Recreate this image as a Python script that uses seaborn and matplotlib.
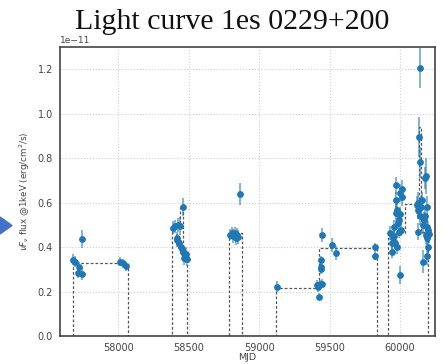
import numpy as np
import pandas as pd
import matplotlib
matplotlib.use("Agg")
import matplotlib.pyplot as plt
from matplotlib.patches import Polygon
import seaborn as sns

# ---------------- data (flux in units of 1e-11 erg/cm2/s) ----------------
mjd = [57681, 57693, 57721, 57716, 57740, 57744, 58012, 58031, 58052,
       58390, 58403, 58426, 58440, 58457, 58414, 58420, 58433, 58443, 58450,
       58457, 58466, 58474, 58480, 58485,
       58793, 58805, 58815, 58825, 58835, 58845, 58850, 58866,
       59127, 59408, 59415, 59420, 59425, 59432, 59444, 59437, 59439, 59440,
       59444, 59515, 59543, 59822, 59825,
       59929, 59950, 59940, 59965, 59979, 59960, 59986, 59972, 59969, 59972,
       60000, 60012, 60012, 60007, 60000, 59993, 60000, 59976, 59955, 59945,
       59990, 60118, 60130, 60142, 60130, 60154, 60165, 60177, 60160, 60189,
       60201, 60194, 60201, 60194, 60184, 60205, 60138, 60135, 60142, 60185,
       60178, 60125, 60150, 60170, 60190]
flux = [0.343, 0.335, 0.310, 0.283, 0.279, 0.436, 0.335, 0.328, 0.313,
        0.487, 0.493, 0.500, 0.495, 0.580, 0.440, 0.430, 0.420, 0.400, 0.390,
        0.380, 0.350, 0.360, 0.370, 0.345,
        0.455, 0.465, 0.450, 0.465, 0.440, 0.455, 0.445, 0.640,
        0.222, 0.230, 0.225, 0.220, 0.177, 0.233, 0.235, 0.300, 0.310, 0.340,
        0.455, 0.410, 0.373, 0.400, 0.360,
        0.463, 0.440, 0.420, 0.420, 0.400, 0.490, 0.510, 0.553, 0.610, 0.677,
        0.644, 0.660, 0.625, 0.478, 0.275, 0.520, 0.550, 0.568, 0.450, 0.380,
        0.470, 0.590, 0.565, 0.540, 0.470, 0.610, 0.500, 0.540, 0.335, 0.490,
        0.478, 0.440, 0.400, 0.360, 0.455, 0.460, 1.206, 0.895, 0.782, 0.720,
        0.710, 0.600, 0.580, 0.520, 0.580]
flux_err = [0.025, 0.025, 0.025, 0.020, 0.025, 0.040, 0.020, 0.020, 0.020,
            0.030, 0.030, 0.030, 0.040, 0.040, 0.030, 0.030, 0.030, 0.030, 0.030,
            0.030, 0.030, 0.030, 0.030, 0.030,
            0.025, 0.025, 0.030, 0.025, 0.030, 0.030, 0.030, 0.050,
            0.025, 0.020, 0.020, 0.020, 0.015, 0.020, 0.020, 0.020, 0.020, 0.020,
            0.030, 0.030, 0.030, 0.020, 0.020,
            0.030, 0.030, 0.030, 0.030, 0.030, 0.030, 0.030, 0.040, 0.040, 0.040,
            0.040, 0.040, 0.040, 0.030, 0.040, 0.030, 0.030, 0.040, 0.030, 0.030,
            0.030, 0.040, 0.040, 0.040, 0.040, 0.040, 0.040, 0.040, 0.050, 0.040,
            0.040, 0.040, 0.040, 0.040, 0.040, 0.040, 0.090, 0.090, 0.070, 0.080,
            0.050, 0.050, 0.050, 0.040, 0.050]

# Bayesian-block style step levels (0 = gap)
block_edges = [57681, 58071, 58383, 58440, 58461, 58490, 58788, 58880,
               59120, 59425, 59834, 59913, 60035, 60135, 60146, 60201]
block_levels = [0.33, 0.0, 0.49, 0.58, 0.37, 0.0, 0.463, 0.0,
                0.215, 0.396, 0.0, 0.465, 0.594, 0.94, 0.47]

title = "Light curve 1es 0229+200"
xlabel = "MJD"
ylabel = r"$\nu F_\nu$ flux @1keV (erg/cm$^2$/s)"
xticks = [58000, 58500, 59000, 59500, 60000]
yticks = [0.0, 0.2, 0.4, 0.6, 0.8, 1.0, 1.2]

scale = 1e-11
df = pd.DataFrame({"MJD": mjd, "flux": np.array(flux) * scale,
                   "err": np.array(flux_err) * scale})

# ---------------- figure ----------------
sns.set_style("white")
plt.rcParams["font.family"] = ["DejaVu Sans"]

W, H = 446, 364
fig = plt.figure(figsize=(W / 100, H / 100), dpi=100)
ax = fig.add_axes([60 / W, 1 - 336 / H, (435 - 60) / W, (336 - 47) / H])

# step line
sx, sy = [block_edges[0]], [0.0]
for i, lv in enumerate(block_levels):
    sx += [block_edges[i], block_edges[i + 1]]
    sy += [lv, lv]
sx.append(block_edges[-1])
sy.append(0.0)
ax.plot(sx, np.array(sy) * scale, color="#555555", lw=0.9,
        linestyle=(0, (2.2, 1.6)), zorder=2)

ax.errorbar(df["MJD"], df["flux"], yerr=df["err"], fmt="none",
            ecolor="#1f77b4", alpha=0.55, elinewidth=1.4, zorder=3)
sns.scatterplot(data=df, x="MJD", y="flux", color="#1f77b4", s=24,
                linewidth=0, ax=ax, zorder=4)

ax.set_xlim(57586, 60248)
ax.set_ylim(0, 1.3 * scale)
ax.set_xticks(xticks)
ax.set_yticks([v * scale for v in yticks])
ax.ticklabel_format(axis="y", style="sci", scilimits=(0, 0))
ax.yaxis.get_offset_text().set_fontsize(6.5)
ax.tick_params(labelsize=7, length=3, width=0.8, pad=2, color="#333333",
               labelcolor="#444444")
ax.grid(True, linestyle=":", color="#cfcfcf", linewidth=0.8)
ax.set_axisbelow(True)
for s in ax.spines.values():
    s.set_color("#444444")
    s.set_linewidth(1.2)

ax.set_xlabel(xlabel, fontsize=6.8, color="#444444", labelpad=0)
ax.set_ylabel(ylabel, fontsize=6.3, color="#444444", labelpad=4)

fig.text(232 / W, 1 - 22 / H, title, ha="center", va="center",
         fontsize=21.5, family=["Liberation Serif", "DejaVu Serif"], color="#111111")

# blue arrow fragment at left edge
tri = Polygon([[0, 1 - 217 / H], [12 / W, 1 - 225.5 / H], [0, 1 - 234 / H]],
              closed=True, transform=fig.transFigure, color="#4472C4")
fig.patches.append(tri)

fig.savefig("out.png", dpi=100)
